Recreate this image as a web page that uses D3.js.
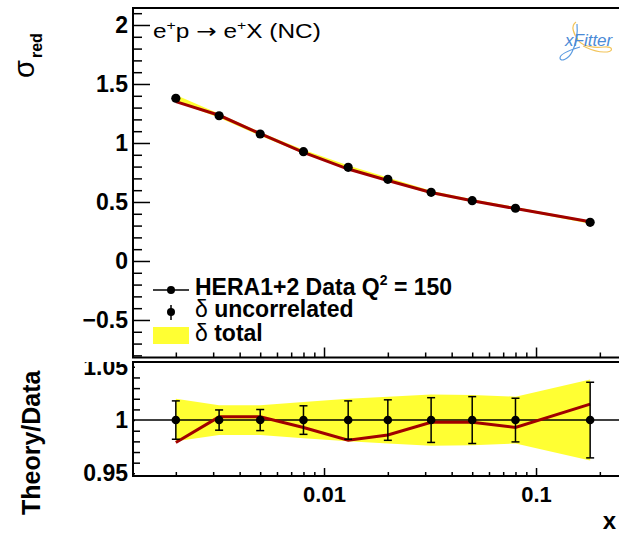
<!DOCTYPE html>
<html>
<head>
<meta charset="utf-8">
<script src="https://cdn.jsdelivr.net/npm/d3@7"></script>
<style>
  body { margin: 0; background: #fff; }
  svg { display: block; font-family: "Liberation Sans", Arial, Helvetica, sans-serif; }
</style>
</head>
<body>
<div id="chart"></div>
<script>
// HERA1+2 NC e+p, Q^2 = 150
const xValues = [0.002, 0.0032, 0.005, 0.008, 0.013, 0.02, 0.032, 0.05, 0.08, 0.18];
const sigmaRed = [1.379, 1.231, 1.076, 0.926, 0.794, 0.692, 0.582, 0.511, 0.447, 0.328];
const theory = [1.350, 1.235, 1.079, 0.920, 0.779, 0.682, 0.581, 0.510, 0.444, 0.333];
const ratio = [0.979, 1.003, 1.003, 0.993, 0.981, 0.986, 0.998, 0.998, 0.993, 1.015];
const uncorrRel = [0.018, 0.0095, 0.0099, 0.0134, 0.018, 0.019, 0.021, 0.022, 0.0205, 0.0355];
const totalRel = [0.020, 0.014, 0.014, 0.017, 0.020, 0.022, 0.024, 0.0236, 0.022, 0.038];

const topMajor = [-0.5, 0, 0.5, 1, 1.5, 2];
const botMajor = [0.95, 1, 1.05];
const xMajor = [0.01, 0.1];

const canvas_width = 619;
const canvas_height = 533;
const frameLeft = 133, frameRight = 622;
const topPanel = { top: 8, bottom: 357.5 };
const botPanel = { top: 362, bottom: 476 };

const yellow = '#ffff33';
const darkRed = '#a00000';

const rows = xValues.map((v, i) => ({
  x: v, s: sigmaRed[i], th: theory[i], r: ratio[i], u: uncorrRel[i], t: totalRel[i]
}));

const svg = d3.select('#chart').append('svg')
  .attr('width', canvas_width)
  .attr('height', canvas_height);

const x = d3.scaleLog().domain([0.001256, 0.2544]).range([frameLeft, frameRight]);
const yTop = d3.scaleLinear().domain([-0.818, 2.144]).range([topPanel.bottom, topPanel.top]);
const yBot = d3.scaleLinear().domain([0.9475, 1.0545]).range([botPanel.bottom, botPanel.top]);

const fmt = (d) => d < 0 ? '\u2212' + Math.abs(d) : String(d);
const xMinor = x.ticks().filter((v) => !xMajor.includes(v));

function styleAxis(g, fontSize) {
  g.select('.domain').remove();
  g.selectAll('.tick line').attr('stroke', '#000').attr('stroke-width', 1.5);
  g.selectAll('.tick text')
    .attr('fill', '#000')
    .attr('font-size', fontSize)
    .attr('font-weight', 'bold')
    .attr('font-family', '"Liberation Sans", Arial, sans-serif');
}

// ---------- top panel ----------
const upper = svg.append('g');

upper.append('path')
  .datum(rows)
  .attr('fill', yellow)
  .attr('d', d3.area()
    .x((d) => x(d.x))
    .y0((d) => yTop(d.s * (1 - d.t)))
    .y1((d) => yTop(d.s * (1 + d.t))));

upper.append('path')
  .datum(rows)
  .attr('fill', 'none')
  .attr('stroke', darkRed)
  .attr('stroke-width', 3)
  .attr('d', d3.line().x((d) => x(d.x)).y((d) => yTop(d.th)));

upper.selectAll('line.err').data(rows).enter().append('line')
  .attr('class', 'err')
  .attr('x1', (d) => x(d.x)).attr('x2', (d) => x(d.x))
  .attr('y1', (d) => yTop(d.s * (1 - d.u)))
  .attr('y2', (d) => yTop(d.s * (1 + d.u)))
  .attr('stroke', '#000').attr('stroke-width', 1.5);

upper.selectAll('circle').data(rows).enter().append('circle')
  .attr('cx', (d) => x(d.x))
  .attr('cy', (d) => yTop(d.s))
  .attr('r', 4.6)
  .attr('fill', '#000');

upper.append('g')
  .attr('transform', `translate(${frameLeft},0)`)
  .call(d3.axisLeft(yTop).tickValues(topMajor).tickSize(-17).tickPadding(5).tickFormat(fmt))
  .call((g) => styleAxis(g, '23px'));

upper.append('g')
  .attr('transform', `translate(${frameLeft},0)`)
  .call(d3.axisLeft(yTop)
    .tickValues(yTop.ticks(30).filter((v) => Math.abs(v * 2 - Math.round(v * 2)) > 1e-6))
    .tickSize(-9).tickFormat(''))
  .call((g) => styleAxis(g, '0px'));

upper.append('g')
  .attr('transform', `translate(0,${topPanel.bottom})`)
  .call(d3.axisBottom(x).tickValues(xMajor).tickSize(-10).tickFormat(''))
  .call((g) => styleAxis(g, '0px'));

upper.append('g')
  .attr('transform', `translate(0,${topPanel.bottom})`)
  .call(d3.axisBottom(x).tickValues(xMinor).tickSize(-5).tickFormat(''))
  .call((g) => styleAxis(g, '0px'));

upper.append('path')
  .attr('fill', 'none').attr('stroke', '#000').attr('stroke-width', 2)
  .attr('d', `M${frameRight},${topPanel.top}H${frameLeft}V${topPanel.bottom}H${frameRight}`);

// process label (ROOT latex text is drawn a bit wide)
const title = upper.append('text')
  .attr('transform', 'translate(153,38) scale(1.22,1)')
  .attr('font-size', '20px');
title.append('tspan').text('e');
title.append('tspan').attr('font-size', '13px').attr('dy', -8).text('+');
title.append('tspan').attr('dy', 8).text('p ');
title.append('tspan').attr('font-family', '"DejaVu Sans", sans-serif').text('\u2192');
title.append('tspan').text(' e');
title.append('tspan').attr('font-size', '13px').attr('dy', -8).text('+');
title.append('tspan').attr('dy', 8).text('X (NC)');

// y label sigma_red
svg.append('text')
  .attr('transform', 'translate(34,78) rotate(-90)')
  .attr('font-size', '29px')
  .text('\u03c3');
svg.append('text')
  .attr('transform', 'translate(42,58) rotate(-90)')
  .attr('font-size', '16px')
  .attr('font-weight', 'bold')
  .text('red');

// legend
const legend = upper.append('g');
legend.append('line')
  .attr('x1', 153).attr('x2', 189).attr('y1', 290).attr('y2', 290)
  .attr('stroke', '#000').attr('stroke-width', 1.5);
legend.append('circle').attr('cx', 171).attr('cy', 290).attr('r', 4).attr('fill', '#000');
legend.append('line')
  .attr('x1', 171).attr('x2', 171).attr('y1', 305).attr('y2', 320)
  .attr('stroke', '#000').attr('stroke-width', 1.5);
legend.append('circle').attr('cx', 171).attr('cy', 312).attr('r', 4).attr('fill', '#000');
legend.append('rect')
  .attr('x', 153).attr('y', 327).attr('width', 36).attr('height', 17)
  .attr('fill', yellow);

const l1 = legend.append('text')
  .attr('x', 195).attr('y', 295)
  .attr('font-size', '23px').attr('font-weight', 'bold');
l1.append('tspan').text('HERA1+2 Data Q');
l1.append('tspan').attr('font-size', '14px').attr('dy', -10).text('2');
l1.append('tspan').attr('dy', 10).text(' = 150');

const l2 = legend.append('text')
  .attr('x', 195).attr('y', 317)
  .attr('font-size', '23px');
l2.append('tspan').text('\u03b4 ');
l2.append('tspan').attr('font-weight', 'bold').text('uncorrelated');

const l3 = legend.append('text')
  .attr('x', 195).attr('y', 341)
  .attr('font-size', '23px');
l3.append('tspan').text('\u03b4 ');
l3.append('tspan').attr('font-weight', 'bold').text('total');

// xFitter logo
const logo = svg.append('g');
logo.append('path')
  .attr('fill', 'none').attr('stroke', '#f2c45a').attr('stroke-width', 1.2)
  .attr('d', 'M576,22 C570,26 574,34 578,40 C583,47 595,48 604,47 C614,46 614,52 604,52 C594,52 588,48 583,46');
logo.append('path')
  .attr('fill', 'none').attr('stroke', '#5b9be0').attr('stroke-width', 1.2)
  .attr('d', 'M577,24 C578,34 576,44 572,52 C568,60 560,62 560,58 C560,54 570,50 580,47');
logo.append('text')
  .attr('x', 565).attr('y', 46)
  .attr('font-size', '17px')
  .attr('font-style', 'italic')
  .attr('fill', '#4a8ad6')
  .text('xFitter');

// ---------- bottom panel ----------
const lower = svg.append('g');

lower.append('path')
  .datum(rows)
  .attr('fill', yellow)
  .attr('d', d3.area()
    .x((d) => x(d.x))
    .y0((d) => yBot(1 - d.t))
    .y1((d) => yBot(1 + d.t)));

lower.append('line')
  .attr('x1', x.range()[0]).attr('x2', x.range()[1])
  .attr('y1', yBot(1)).attr('y2', yBot(1))
  .attr('stroke', '#000').attr('stroke-width', 1.5);

lower.append('path')
  .datum(rows)
  .attr('fill', 'none')
  .attr('stroke', darkRed)
  .attr('stroke-width', 3)
  .attr('d', d3.line().x((d) => x(d.x)).y((d) => yBot(d.r)));

const errs = lower.selectAll('g.err').data(rows).enter().append('g').attr('class', 'err');
errs.append('line')
  .attr('x1', (d) => x(d.x)).attr('x2', (d) => x(d.x))
  .attr('y1', (d) => yBot(1 - d.u)).attr('y2', (d) => yBot(1 + d.u))
  .attr('stroke', '#000').attr('stroke-width', 1.5);
errs.append('line')
  .attr('x1', (d) => x(d.x) - 4).attr('x2', (d) => x(d.x) + 4)
  .attr('y1', (d) => yBot(1 + d.u)).attr('y2', (d) => yBot(1 + d.u))
  .attr('stroke', '#000').attr('stroke-width', 1.5);
errs.append('line')
  .attr('x1', (d) => x(d.x) - 4).attr('x2', (d) => x(d.x) + 4)
  .attr('y1', (d) => yBot(1 - d.u)).attr('y2', (d) => yBot(1 - d.u))
  .attr('stroke', '#000').attr('stroke-width', 1.5);
errs.append('circle')
  .attr('cx', (d) => x(d.x)).attr('cy', yBot(1))
  .attr('r', 4.3).attr('fill', '#000');

svg.append('clipPath').attr('id', 'botclip')
  .append('rect').attr('x', -frameLeft).attr('y', botPanel.top).attr('width', frameLeft + 2).attr('height', 200);

lower.append('g')
  .attr('clip-path', 'url(#botclip)')
  .attr('transform', `translate(${frameLeft},0)`)
  .call(d3.axisLeft(yBot).tickValues(botMajor).tickSize(-12).tickPadding(5).tickFormat(fmt))
  .call((g) => styleAxis(g, '23px'));

lower.append('g')
  .attr('transform', `translate(${frameLeft},0)`)
  .call(d3.axisLeft(yBot)
    .tickValues(yBot.ticks(10).filter((v) => Math.abs(v * 20 - Math.round(v * 20)) > 1e-6))
    .tickSize(-7).tickFormat(''))
  .call((g) => styleAxis(g, '0px'));

lower.append('g')
  .attr('transform', `translate(0,${botPanel.bottom})`)
  .call(d3.axisBottom(x).tickValues(xMajor).tickSize(-8).tickPadding(10).tickFormat((d) => String(d)))
  .call((g) => styleAxis(g, '22px'));

lower.append('g')
  .attr('transform', `translate(0,${botPanel.bottom})`)
  .call(d3.axisBottom(x).tickValues(xMinor).tickSize(-4).tickFormat(''))
  .call((g) => styleAxis(g, '0px'));

lower.append('path')
  .attr('fill', 'none').attr('stroke', '#000').attr('stroke-width', 2)
  .attr('d', `M${frameRight},${botPanel.top}H${frameLeft}V${botPanel.bottom}H${frameRight}`);

svg.append('text')
  .attr('transform', 'translate(40,515) rotate(-90)')
  .attr('font-size', '25px')
  .attr('font-weight', 'bold')
  .text('Theory/Data');

svg.append('text')
  .attr('x', 616).attr('y', 529)
  .attr('text-anchor', 'end')
  .attr('font-size', '24px')
  .attr('font-weight', 'bold')
  .text('x');
</script>
</body>
</html>
